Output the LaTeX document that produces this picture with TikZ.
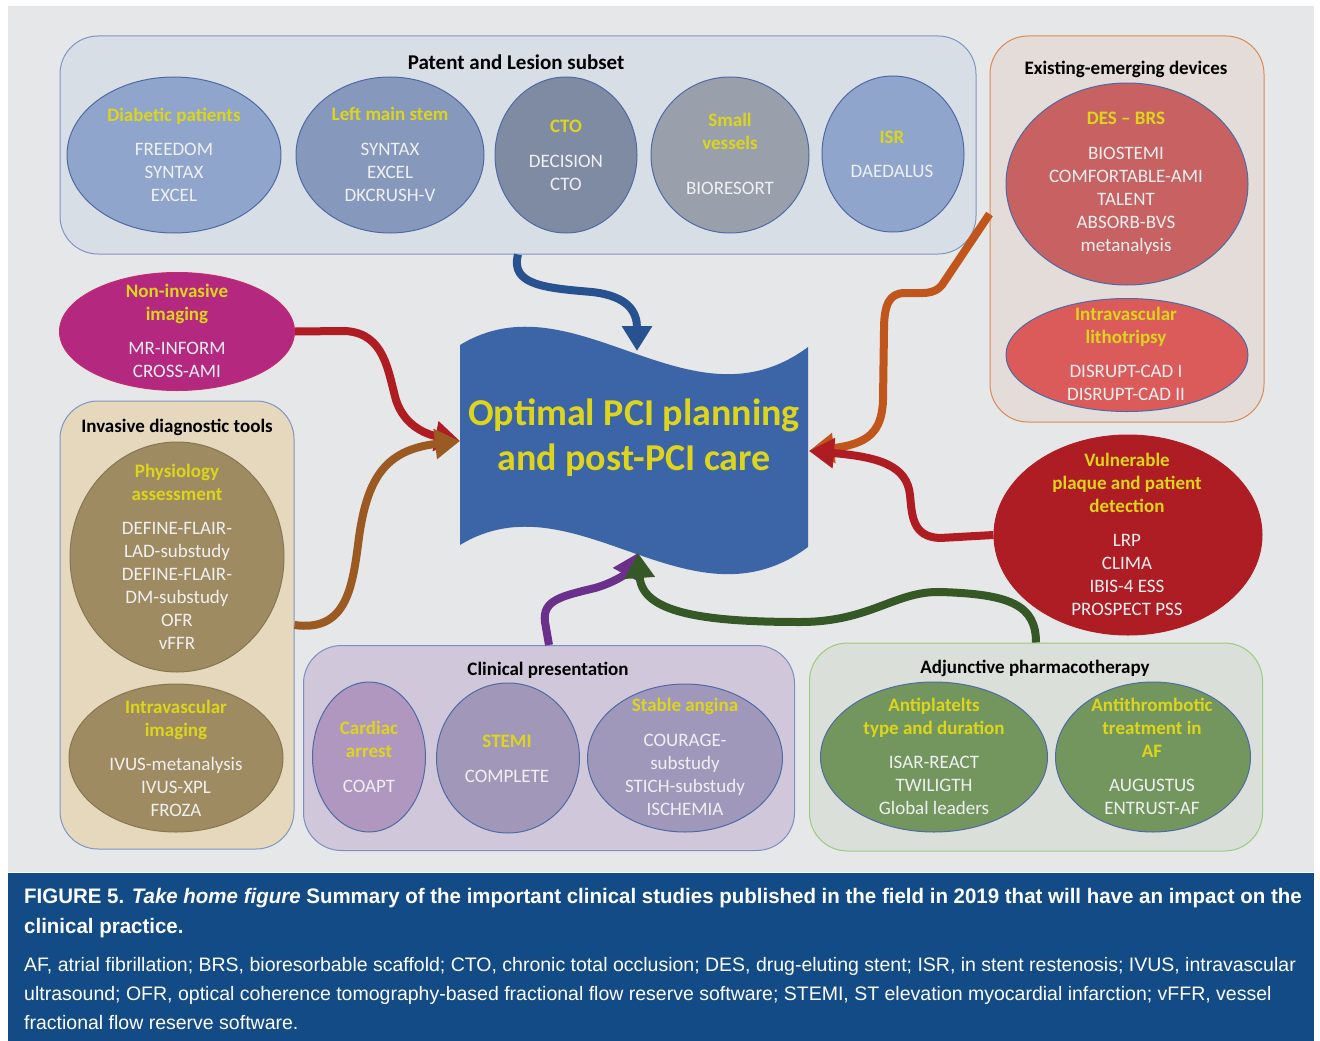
\documentclass[tikz,border=0pt]{standalone}
\usepackage{fontspec}
\setmainfont{Carlito}
\newfontfamily\capfontb[FakeStretch=0.975]{Liberation Sans}
\newfontfamily\capfontr[FakeStretch=1.0]{Liberation Sans}
\usetikzlibrary{shapes.geometric,arrows.meta}
\definecolor{bg}{HTML}{E6E7E9}
\definecolor{capblue}{HTML}{134B86}
\definecolor{ylw}{HTML}{DDD51C}
\definecolor{itemc}{HTML}{F0F0F2}
\definecolor{ellline}{HTML}{4F6AA3}
\definecolor{patfill}{HTML}{D8DEE6}
\definecolor{patdraw}{HTML}{8196C3}
\definecolor{diabfill}{HTML}{8FA5CC}
\definecolor{lmsfill}{HTML}{8698BB}
\definecolor{ctofill}{HTML}{7F8BA3}
\definecolor{smallfill}{HTML}{99A0AB}
\definecolor{devfill}{HTML}{E3DCD8}
\definecolor{devdraw}{HTML}{D98B57}
\definecolor{desfill}{HTML}{C86161}
\definecolor{ivlfill}{HTML}{DB5B5B}
\definecolor{nonfill}{HTML}{B4287F}
\definecolor{nondraw}{HTML}{C02D6E}
\definecolor{invfill}{HTML}{E5D8BD}
\definecolor{physfill}{HTML}{9F8B61}
\definecolor{clinfill}{HTML}{D1C7DA}
\definecolor{clindraw}{HTML}{7D8EC1}
\definecolor{cardfill}{HTML}{B097C0}
\definecolor{stemifill}{HTML}{A198B9}
\definecolor{stablefill}{HTML}{9F98BB}
\definecolor{adjfill}{HTML}{DADFDA}
\definecolor{adjdraw}{HTML}{9BCB7D}
\definecolor{antifill}{HTML}{73965F}
\definecolor{vulnfill}{HTML}{AE1D24}
\definecolor{pcifill}{HTML}{3B65A7}
\definecolor{blueA}{HTML}{27528F}
\definecolor{redA}{HTML}{AF1D23}
\definecolor{brownA}{HTML}{9A5A22}
\definecolor{orangeA}{HTML}{C0561C}
\definecolor{purpA}{HTML}{6B2F8C}
\definecolor{greenA}{HTML}{355826}
\newcommand\hd[1]{\textcolor{ylw}{\bfseries #1}}
\tikzset{
  ell/.style={ellipse, draw=ellline, line width=1pt, inner sep=0pt},
  etxt/.style={align=center, text=itemc, inner sep=0pt, font=\fontsize{19}{23}\selectfont},
  grp/.style={rounded corners=38pt, line width=1pt, inner sep=0pt},
  ttl/.style={font=\bfseries\fontsize{19}{23}\selectfont, text=black, inner sep=0pt},
  arr/.style={line width=8pt, line join=round, -{Triangle[length=25pt 0, width=29pt 0]}},
  capline/.style={anchor=base west, inner sep=0pt, text=white},
}
\begin{document}
\begin{tikzpicture}[x=1pt,y=-1pt]
\useasboundingbox (0,0) rectangle (1320,1041);
\fill[white] (0,0) rectangle (1320,1041);
\fill[bg] (8,6) rectangle (1314,872);
\fill[capblue] (8,873) rectangle (1314,1041);

% group boxes
\node[grp, draw=patdraw, fill=patfill, minimum width=916pt, minimum height=218pt] (patent) at (518,145) {};
\node[grp, draw=devdraw, fill=devfill, minimum width=274pt, minimum height=386pt] (dev) at (1127,229) {};
\node[grp, draw=patdraw, fill=invfill, minimum width=234pt, minimum height=448pt] (inv) at (177,625) {};
\node[grp, draw=clindraw, fill=clinfill, minimum width=491pt, minimum height=205pt] (clin) at (549,748) {};
\node[grp, draw=adjdraw, fill=adjfill, minimum width=453pt, minimum height=208pt] (adj) at (1036,747) {};

% ellipses
\node[ell, fill=diabfill, minimum width=214pt, minimum height=156pt] (diab) at (174,155) {};
\node[ell, fill=lmsfill, minimum width=188pt, minimum height=156pt] (lms) at (390,155) {};
\node[ell, fill=ctofill, minimum width=142pt, minimum height=156pt] (cto) at (566,155) {};
\node[ell, fill=smallfill, minimum width=158pt, minimum height=156pt] (small) at (730,155) {};
\node[ell, fill=diabfill, minimum width=142pt, minimum height=156pt] (isr) at (893,154) {};
\node[ell, fill=desfill, minimum width=242pt, minimum height=202pt] (des) at (1127,184) {};
\node[ell, fill=ivlfill, minimum width=242pt, minimum height=113pt] (litho) at (1127,355) {};
\node[ell, draw=nondraw, fill=nonfill, minimum width=235pt, minimum height=118pt] (noninv) at (177,331.5) {};
\node[ell, draw=physfill!85!black, fill=physfill, minimum width=214pt, minimum height=230pt] (phys) at (177,557) {};
\node[ell, draw=physfill!85!black, fill=physfill, minimum width=214pt, minimum height=148pt] (ivimg) at (176,758) {};
\node[ell, fill=cardfill, minimum width=113pt, minimum height=150pt] (card) at (369,757) {};
\node[ell, fill=stemifill, minimum width=143pt, minimum height=150pt] (stemi) at (508,758) {};
\node[ell, fill=stablefill, minimum width=195pt, minimum height=148pt] (stable) at (685,758) {};
\node[ell, fill=antifill, minimum width=227pt, minimum height=150pt] (antip) at (934,757) {};
\node[ell, fill=antifill, minimum width=195pt, minimum height=150pt] (antit) at (1153,757) {};
\node[ell, draw=vulnfill, fill=vulnfill, minimum width=268pt, minimum height=200pt] (vuln) at (1128,535) {};

% group titles
\node[ttl, font=\bfseries\fontsize{21}{23}\selectfont] (patentT) at (516,62) {Patent and Lesion subset};
\node[ttl] (devT) at (1126,69) {Existing-emerging devices};
\node[ttl] (invT) at (177,427) {Invasive diagnostic tools};
\node[ttl] (clinT) at (548,670) {Clinical presentation};
\node[ttl] (adjT) at (1035,668) {Adjunctive pharmacotherapy};

% ellipse texts
\node[etxt] (diabT) at (174,155) {\hd{Diabetic patients}\\[11pt]FREEDOM\\SYNTAX\\EXCEL};
\node[etxt] (lmsT) at (390,154.5) {\hd{Left main stem}\\[12pt]SYNTAX\\EXCEL\\DKCRUSH-V};
\node[etxt] (ctoT) at (566,155) {\hd{CTO}\\[12pt]DECISION\\CTO};
\node[etxt] (smallT) at (730,154) {\hd{Small}\\\hd{vessels}\\[22pt]BIORESORT};
\node[etxt] (isrT) at (892,154) {\hd{ISR}\\[11pt]DAEDALUS};
\node[etxt] (desT) at (1126,183.5) {\hd{DES -- BRS}\\[12pt]BIOSTEMI\\COMFORTABLE-AMI\\TALENT\\ABSORB-BVS\\metanalysis};
\node[etxt] (lithoT) at (1126,354) {\hd{Intravascular}\\\hd{lithotripsy}\\[11pt]DISRUPT-CAD I\\DISRUPT-CAD II};
\node[etxt] (noninvT) at (177,331) {\hd{Non-invasive}\\\hd{imaging}\\[11pt]MR-INFORM\\CROSS-AMI};
\node[etxt] (physT) at (177,557) {\hd{Physiology}\\\hd{assessment}\\[11pt]DEFINE-FLAIR-\\LAD-substudy\\DEFINE-FLAIR-\\DM-substudy\\OFR\\vFFR};
\node[etxt] (ivimgT) at (176,758.5) {\hd{Intravascular}\\\hd{imaging}\\[11pt]IVUS-metanalysis\\IVUS-XPL\\FROZA};
\node[etxt] (cardT) at (369,757) {\hd{Cardiac}\\\hd{arrest}\\[12pt]COAPT};
\node[etxt] (stemiT) at (507,758.5) {\hd{STEMI}\\[12pt]COMPLETE};
\node[etxt] (stableT) at (685,756.5) {\hd{Stable angina}\\[12pt]COURAGE-\\substudy\\STICH-substudy\\ISCHEMIA};
\node[etxt] (antipT) at (934,756.5) {\hd{Antiplatelts}\\\hd{type and duration}\\[11pt]ISAR-REACT\\TWILIGTH\\Global leaders};
\node[etxt] (antitT) at (1152,756.5) {\hd{Antithrombotic}\\\hd{treatment in}\\\hd{AF}\\[11pt]AUGUSTUS\\ENTRUST-AF};
\node[etxt] (vulnT) at (1127,534.5) {\hd{Vulnerable}\\\hd{plaque and patient}\\\hd{detection}\\[11pt]LRP\\CLIMA\\IBIS-4 ESS\\PROSPECT PSS};

% central wave
\fill[pcifill] (460,345) .. controls (575,275) and (690,435) .. (808,347) -- (808,547) .. controls (690,635) and (575,475) .. (460,545) -- cycle;
\node[align=center, text=ylw, inner sep=0pt, font=\bfseries\fontsize{38}{45}\selectfont] (pci) at (634,438) {Optimal PCI planning\\and post-PCI care};

\coordinate (tipTop) at (637,351);
\coordinate (tipLeft) at (460,441);
\coordinate (tipRight) at (809,451);
\coordinate (tipBot) at (638,553);

% connectors
\draw[arr,blueA] (patent.south) .. controls (510,285) and (545,288) .. (592,292) .. controls (628,296) and (637,312) .. (tipTop);
\draw[arr,redA] (noninv.east) -- (345,331) .. controls (385,333) and (388,372) .. (396,400) .. controls (404,425) and (425,434) .. (tipLeft);
\draw[arr,brownA] (inv.east) .. controls (345,632) and (352,590) .. (358,545) .. controls (366,478) and (385,450) .. (tipLeft);
\draw[arr,orangeA] ([yshift=15pt]dev.west) -- (942,285) .. controls (934,295) and (922,293) .. (905,293) .. controls (889,293) and (884,305) .. (884,330) -- (883,400) .. controls (882,432) and (868,444) .. (tipRight);
\draw[arr,redA] (vuln.west) -- (940,538) .. controls (912,537) and (912,515) .. (910,495) .. controls (907,466) and (880,457) .. (tipRight);
\draw[arr,purpA] (clin.north) -- (545,622) .. controls (542,600) and (562,596) .. (595,588) .. controls (616,582) and (628,572) .. (tipBot);
\draw[arr,greenA] (adj.north) .. controls (1036,605) and (1010,594) .. (940,592) .. controls (895,591) and (870,622) .. (800,622) .. controls (700,622) and (642,612) .. (tipBot);

% caption
\node[capline, font=\capfontb\bfseries\fontsize{21}{24}\selectfont] (cap1) at (24,903) {FIGURE 5. \textit{Take home figure} Summary of the important clinical studies published in the field in 2019 that will have an impact on the};
\node[capline, font=\capfontb\bfseries\fontsize{21}{24}\selectfont] (cap2) at (24,933) {clinical practice.};
\node[capline, font=\capfontr\fontsize{19.5}{24}\selectfont] (cap3) at (24,971) {AF, atrial fibrillation; BRS, bioresorbable scaffold; CTO, chronic total occlusion; DES, drug-eluting stent; ISR, in stent restenosis; IVUS, intravascular};
\node[capline, font=\capfontr\fontsize{19.5}{24}\selectfont] (cap4) at (24,1000) {ultrasound; OFR, optical coherence tomography-based fractional flow reserve software; STEMI, ST elevation myocardial infarction; vFFR, vessel};
\node[capline, font=\capfontr\fontsize{19.5}{24}\selectfont] (cap5) at (24,1029) {fractional flow reserve software.};
\end{tikzpicture}
\end{document}
